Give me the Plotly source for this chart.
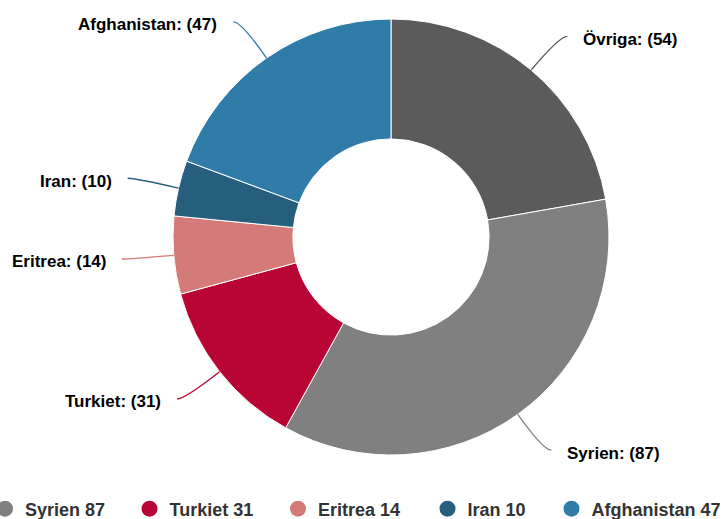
import math
import plotly.graph_objects as go

# ---- data ----
labels = ["Övriga", "Syrien", "Turkiet", "Eritrea", "Iran", "Afghanistan"]
values = [54, 87, 31, 14, 10, 47]
colors = ["#5b5b5b", "#808080", "#b90533", "#d47b7a", "#265f7e", "#2f7ca8"]
legend_labels = ["Syrien", "Turkiet", "Eritrea", "Iran", "Afghanistan"]

# ---- layout geometry (pixels) ----
W, H = 724, 519
ML, MR, MT, MB = 0, 0, 0, 30
PW, PH = W - ML - MR, H - MT - MB
CX, CY, R = 391, 237, 218
HOLE = 0.45
R_CONN = 262
HOOK = 8
TEXT_GAP = 14
FONT = "Liberation Sans, Arial, sans-serif"
LEGEND_LEFT = [-15, 129.5, 278, 427.5, 551.5]  # left edge of each legend entry (px)
LEGEND_Y = 509


def to_paper(x, y):
    return (x - ML) / PW, (MT + PH - y) / PH


dx0, dy1 = to_paper(CX - R, CY - R)
dx1, dy0 = to_paper(CX + R, CY + R)

fig = go.Figure()
fig.add_trace(go.Pie(
    labels=labels, values=values, sort=False, direction="clockwise", rotation=0,
    hole=HOLE, textinfo="none", showlegend=False,
    marker=dict(colors=colors, line=dict(color="#ffffff", width=1)),
    domain=dict(x=[dx0, dx1], y=[dy0, dy1]),
))

# legend entries (Övriga is not shown in the legend)
legend_layouts = {}
for i, lab in enumerate(legend_labels):
    k = labels.index(lab)
    lname = "legend" if i == 0 else f"legend{i + 1}"
    fig.add_trace(go.Scatter(
        x=[None], y=[None], mode="markers", name=f"{lab} {values[k]}",
        marker=dict(color=colors[k], size=18, symbol="circle"),
        showlegend=True, hoverinfo="skip", legend=lname,
    ))
    lx, ly = to_paper(LEGEND_LEFT[i], LEGEND_Y)
    legend_layouts[lname] = dict(
        orientation="h", x=lx, xanchor="left", y=ly, yanchor="middle",
        font=dict(family=FONT, size=18, color="#333333", weight="bold"),
        bgcolor="rgba(0,0,0,0)", itemwidth=30,
    )

# connectors and labels
total = sum(values)
cum = 0
shapes, annotations = [], []
for lab, val, col in zip(labels, values, colors):
    a = math.radians((cum + val / 2) / total * 360)
    cum += val
    s, c = math.sin(a), math.cos(a)
    side = 1 if s >= 0 else -1
    p0 = (CX + R * s, CY - R * c)
    p1 = (CX + R_CONN * s, CY - R_CONN * c)
    p2 = (p1[0] + side * HOOK, p1[1])
    q0, q1, q2 = to_paper(*p0), to_paper(*p1), to_paper(*p2)
    shapes.append(dict(
        type="path", xref="paper", yref="paper",
        path=f"M {q0[0]},{q0[1]} Q {q1[0]},{q1[1]} {q2[0]},{q2[1]}",
        line=dict(color=col, width=1.3),
    ))
    tx, ty = to_paper(p2[0] + side * TEXT_GAP, p2[1])
    annotations.append(dict(
        x=tx, y=ty, xref="paper", yref="paper", showarrow=False,
        text=f"{lab}: ({val})", xanchor="left" if side > 0 else "right",
        yanchor="middle", yshift=-3,
        font=dict(family=FONT, size=17, color="#000000", weight="bold"),
    ))

fig.update_layout(
    width=W, height=H,
    margin=dict(l=ML, r=MR, t=MT, b=MB, autoexpand=False),
    paper_bgcolor="#ffffff", plot_bgcolor="#ffffff",
    xaxis=dict(visible=False), yaxis=dict(visible=False),
    shapes=shapes, annotations=annotations,
    showlegend=True,
    **legend_layouts,
)

fig.write_html(
    "out.html",
    config={"displayModeBar": False},
    post_script="document.body.style.margin='0';document.body.style.overflow='hidden';",
)
